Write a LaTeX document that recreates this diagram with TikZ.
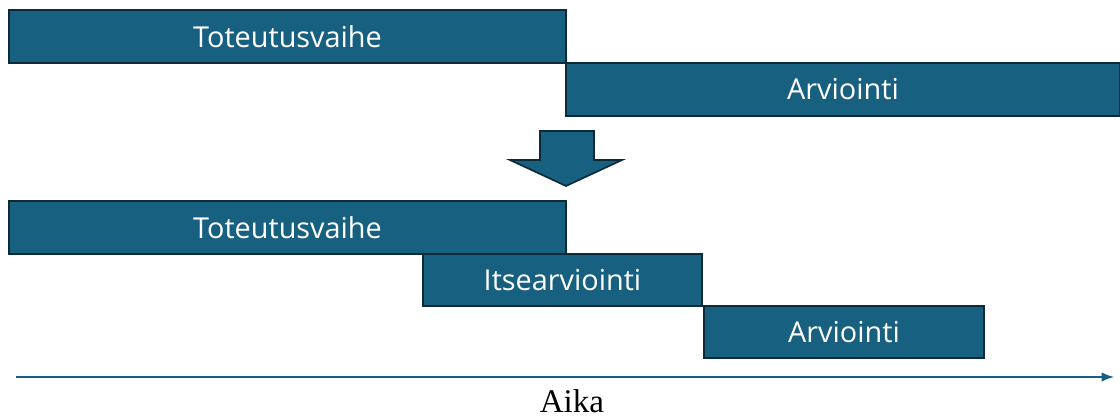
\documentclass[tikz,border=0pt]{standalone}
\usepackage{fontspec}
\setmainfont{Liberation Serif}
\newfontfamily\barfont{Open Sans}
\definecolor{phase_blue}{RGB}{24, 96, 128}
\definecolor{phase_edge}{RGB}{12, 42, 56}
\tikzstyle{bar}=[rectangle,fill=phase_blue,draw=phase_edge,line width=1.4pt,
  text=white,font=\barfont\fontsize{20.5}{24}\selectfont,inner sep=0pt,
  minimum height=1.32cm]
\tikzstyle{axis}=[draw=phase_blue,line width=2pt,-latex]

\begin{document}
\begin{tikzpicture}[x=0.025cm,y=-0.025cm]
    \useasboundingbox (0,0) rectangle (1120,418);
    % before
    \node [style=bar,minimum width=13.925cm] (t1) at (287.5,36.5) {Toteutusvaihe};
    \node [style=bar,minimum width=13.85cm] (a1) at (843,89.5) {Arviointi};
    % down arrow
    \draw [fill=phase_blue,draw=phase_edge,line width=1.2pt]
      (540,131) -- (594,131) -- (594,160) -- (622,160) -- (566,186)
      -- (510,160) -- (540,160) -- cycle;
    % after
    \node [style=bar,minimum width=13.925cm] (t2) at (287.5,227.5) {Toteutusvaihe};
    \node [style=bar,minimum width=6.975cm] (i2) at (562.5,280) {Itsearviointi};
    \node [style=bar,minimum width=7cm] (a2) at (844,332) {Arviointi};
    % time axis
    \coordinate (s) at (16,377);
    \coordinate (e) at (1114,377);
    \draw [style=axis] (s) to (e);
    \node [font=\fontsize{23.5}{26}\selectfont,anchor=base,inner sep=0pt] (aika) at (572,412.5) {Aika};
\end{tikzpicture}
\end{document}
